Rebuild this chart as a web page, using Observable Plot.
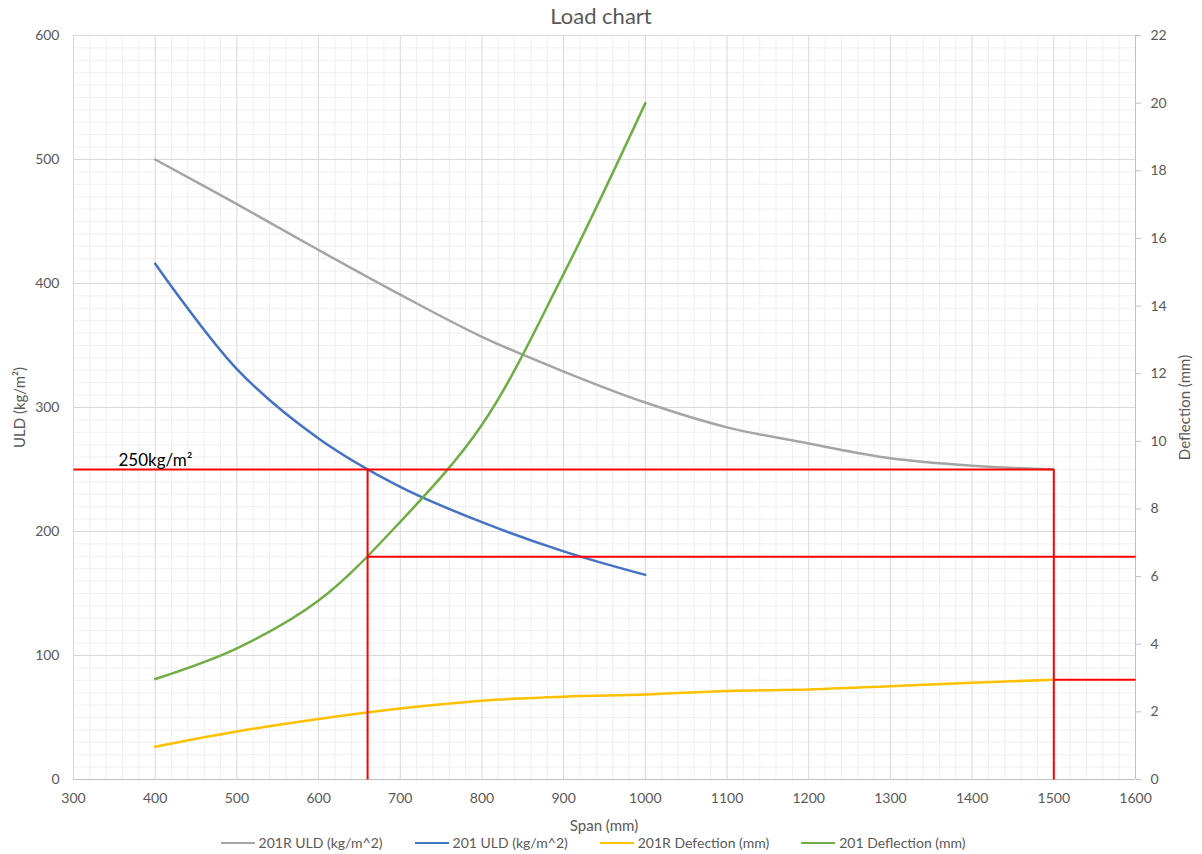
<!DOCTYPE html>
<html><head><meta charset="utf-8">
<script src="https://cdn.jsdelivr.net/npm/d3@7"></script>
<script src="https://cdn.jsdelivr.net/npm/@observablehq/plot@0.6"></script>
<style>
body{margin:0;background:#fff;font-family:Lato,sans-serif;width:1202px;}
#title{height:28px;padding-top:2px;line-height:28px;text-align:center;font-size:22px;color:#595959;}
#chart svg{display:block;overflow:visible;}
#xlabel{height:22px;line-height:22px;text-align:center;font-size:15px;color:#595959;padding-left:6px;}
#legend{display:flex;justify-content:center;align-items:center;height:18px;line-height:18px;font-size:14px;color:#595959;padding-right:16px;margin-top:-2px;}
.item{display:flex;align-items:center;margin:0 16px;}
.sw{display:inline-block;width:34px;height:2.5px;margin-right:4px;}
</style></head><body>
<div id="title">Load chart</div>
<div id="chart"></div>
<div id="xlabel">Span (mm)</div>
<div id="legend"></div>
<script>
// ---- data ----
const spans201R = [400,500,600,700,800,900,1000,1100,1200,1300,1400,1500];
const uld201R   = [500,464,427,391,357,329,304,284,271,259,253,250];
const defl201R  = [0.97,1.42,1.79,2.10,2.33,2.45,2.51,2.62,2.66,2.76,2.86,2.95];
const spans201  = [400,500,600,700,800,900,1000];
const uld201    = [416,331,275,236,207.5,184,165];
const defl201   = [2.97,3.88,5.29,7.62,10.49,14.95,20.0];

const xTicks = [300,400,500,600,700,800,900,1000,1100,1200,1300,1400,1500,1600];
const leftTicks = [0,100,200,300,400,500,600];
const rightTicks = [0,2,4,6,8,10,12,14,16,18,20,22];

// reference (red) construction values
const uldLimit = 250;
const span201AtLimit = 660;
const defl201AtSpan = 6.59;
const span201RAtLimit = 1500;
const defl201RAtSpan = 2.95;
const limitLabel = "250kg/m²";
const limitLabelX = 355;

const seriesNames = ["201R ULD (kg/m^2)","201 ULD (kg/m^2)","201R Defection (mm)","201 Deflection (mm)"];
const seriesColors = ["#a5a5a5","#4472c4","#ffc000","#70ad47"];

// ---- derived tables ----
const k = 600/22; // mm -> left-axis units
const grayData = spans201R.map((s,i)=>({s, v: uld201R[i]}));
const blueData = spans201.map((s,i)=>({s, v: uld201[i]}));
const yellowData = spans201R.map((s,i)=>({s, v: defl201R[i]*k}));
const greenData = spans201.map((s,i)=>({s, v: defl201[i]*k}));

const redSegs = [
  {x1:300, y1:uldLimit, x2:span201RAtLimit, y2:uldLimit},
  {x1:span201AtLimit, y1:0, x2:span201AtLimit, y2:uldLimit},
  {x1:span201AtLimit, y1:defl201AtSpan*k, x2:1600, y2:defl201AtSpan*k},
  {x1:span201RAtLimit, y1:0, x2:span201RAtLimit, y2:uldLimit},
  {x1:span201RAtLimit, y1:defl201RAtSpan*k, x2:1600, y2:defl201RAtSpan*k}
];

const minorX = d3.range(300,1601,20).filter(v=>v%100!==0);
const minorY = d3.range(0,601,10).filter(v=>v%100!==0);

const lineOpts = {x:"s", y:"v", strokeWidth:2.5, curve:"catmull-rom"};

const chart = Plot.plot({
  width:1202, height:784,
  marginTop:5, marginBottom:35, marginLeft:73, marginRight:67,
  style:{fontFamily:"Lato, sans-serif", fontSize:"14px", color:"#595959", background:"#fff"},
  x:{domain:[300,1600], axis:null},
  y:{domain:[0,600], axis:null},
  marks:[
    Plot.ruleX(minorX, {stroke:"#f0f0f0", strokeWidth:1}),
    Plot.ruleY(minorY, {stroke:"#f0f0f0", strokeWidth:1}),
    Plot.ruleX(xTicks, {stroke:"#d9d9d9", strokeWidth:1}),
    Plot.ruleY(leftTicks, {stroke:"#d9d9d9", strokeWidth:1}),
    Plot.ruleY([0], {stroke:"#bfbfbf", strokeWidth:1}),
    Plot.ruleX([1600], {stroke:"#bfbfbf", strokeWidth:1}),
    Plot.axisX(xTicks, {tickSize:0, tickPadding:14, fontSize:14, label:null, tickFormat:d=>String(d)}),
    Plot.axisY(leftTicks, {anchor:"left", tickSize:0, tickPadding:14, fontSize:14, label:null, tickFormat:d=>String(d)}),
    Plot.axisY(rightTicks.map(d=>d*k), {anchor:"right", tickSize:5, tickPadding:10, fontSize:14,
      stroke:"#bfbfbf", fill:"#595959", tickFormat:d=>String(Math.round(d/k)), label:null}),
    Plot.line(grayData, {...lineOpts, stroke:seriesColors[0]}),
    Plot.line(blueData, {...lineOpts, stroke:seriesColors[1]}),
    Plot.line(yellowData, {...lineOpts, stroke:seriesColors[2]}),
    Plot.line(greenData, {...lineOpts, stroke:seriesColors[3]}),
    Plot.link(redSegs, {x1:"x1", y1:"y1", x2:"x2", y2:"y2", stroke:"#ff0000", strokeWidth:2}),
    Plot.text([limitLabel], {x:limitLabelX, y:uldLimit, text:d=>d, textAnchor:"start", lineAnchor:"bottom",
      dy:-4, fontSize:17, fill:"#000"}),
    Plot.text(["ULD (kg/m²)"], {frameAnchor:"left", dx:-53, rotate:-90, textAnchor:"middle", lineAnchor:"middle", fontSize:15, fill:"#595959"}),
    Plot.text(["Deflection (mm)"], {frameAnchor:"right", dx:50, rotate:-90, textAnchor:"middle", lineAnchor:"middle", fontSize:15, fill:"#595959"})
  ]
});
document.getElementById("chart").appendChild(chart);

const legend = document.getElementById("legend");
seriesNames.forEach((n,i)=>{
  const it = document.createElement("div"); it.className="item";
  const sw = document.createElement("span"); sw.className="sw"; sw.style.background=seriesColors[i];
  const tx = document.createElement("span"); tx.textContent=n;
  it.appendChild(sw); it.appendChild(tx); legend.appendChild(it);
});
</script>
</body></html>
